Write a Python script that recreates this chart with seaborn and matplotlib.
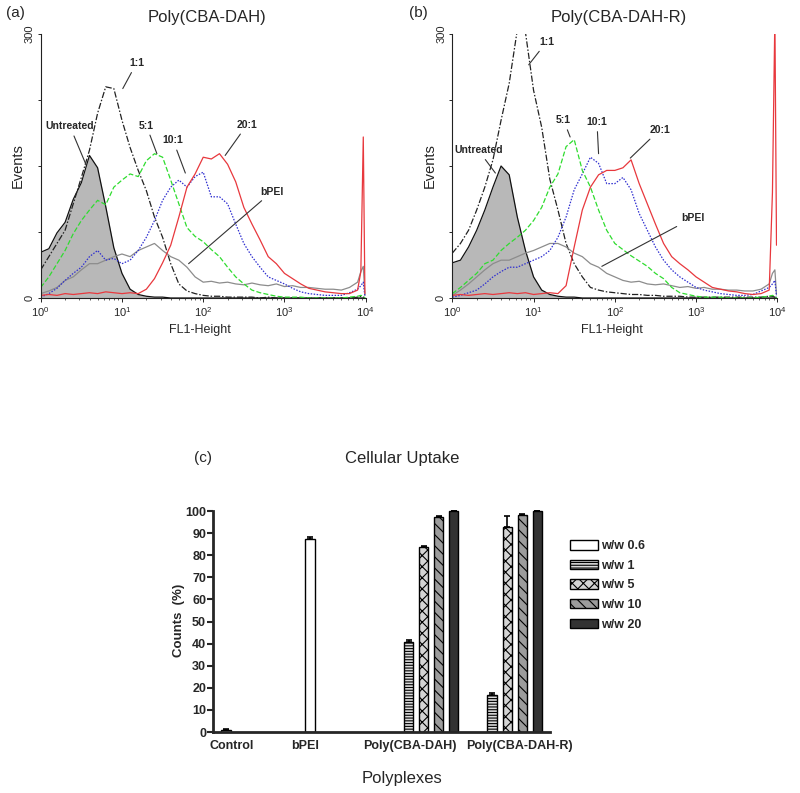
import numpy as np
import pandas as pd
import matplotlib.pyplot as plt
import seaborn as sns
from matplotlib.patches import Patch

sns.set_style('ticks')
plt.rcParams['font.family'] = ['Liberation Sans', 'DejaVu Sans']
plt.rcParams['mathtext.fontset'] = 'custom'
plt.rcParams['mathtext.rm'] = 'Liberation Sans'
plt.rcParams['mathtext.it'] = 'Liberation Sans:italic'
plt.rcParams['mathtext.bf'] = 'Liberation Sans:bold'
plt.rcParams['hatch.linewidth'] = 0.8

# ---- flow cytometry histograms (log10 of FL1-Height channel) ----
log_bins = [0.0, 0.1, 0.2, 0.3, 0.4, 0.5, 0.6, 0.7, 0.8, 0.9,
            1.0, 1.1, 1.2, 1.3, 1.4, 1.5, 1.6, 1.7, 1.8, 1.9,
            2.0, 2.1, 2.2, 2.3, 2.4, 2.5, 2.6, 2.7, 2.8, 2.9,
            3.0, 3.1, 3.2, 3.3, 3.4, 3.5, 3.6, 3.7, 3.8, 3.9,
            3.94, 3.97, 3.99]

samples = ['Untreated', '1:1', 'bPEI', '10:1', '5:1', '20:1']

# panel (a) Poly(CBA-DAH)
untreated_a = [52, 56, 74, 86, 112, 131, 162, 148, 104, 57,
               28, 10, 4, 2, 1, 1, 0, 0, 0, 0,
               0, 0, 0, 0, 0, 0, 0, 0, 0, 0,
               0, 0, 0, 0, 0, 0, 0, 0, 0, 0,
               0, 0, 0]
ratio1_a = [32, 47, 62, 77, 107, 137, 168, 210, 240, 238,
            202, 171, 145, 122, 92, 69, 39, 16, 8, 5,
            3, 2, 2, 1, 1, 1, 1, 0, 1, 0,
            0, 0, 0, 0, 0, 0, 0, 0, 0, 1,
            2, 1, 0]
ratio5_a = [12, 24, 39, 54, 73, 88, 100, 111, 106, 126,
            134, 141, 138, 156, 164, 160, 134, 107, 80, 70,
            64, 55, 47, 35, 24, 16, 9, 6, 4, 2,
            1, 1, 1, 0, 0, 0, 0, 0, 1, 2,
            3, 2, 0]
ratio10_a = [1, 5, 11, 20, 28, 35, 47, 54, 43, 45,
             39, 43, 54, 69, 88, 111, 126, 134, 126, 138,
             143, 115, 115, 107, 84, 62, 47, 35, 24, 20,
             16, 11, 7, 5, 4, 3, 3, 3, 6, 10,
             14, 18, 2]
ratio20_a = [3, 4, 3, 5, 4, 5, 6, 5, 7, 6,
             5, 6, 5, 10, 22, 40, 60, 92, 126, 141,
             160, 158, 164, 152, 132, 103, 84, 66, 47, 39,
             28, 22, 16, 11, 9, 7, 6, 5, 5, 9,
             30, 183, 5]
bpei_a = [5, 8, 12, 20, 24, 32, 39, 39, 43, 47,
          50, 47, 54, 58, 62, 54, 47, 43, 35, 24,
          18, 19, 17, 18, 16, 15, 17, 15, 14, 16,
          13, 14, 12, 12, 11, 10, 10, 9, 12, 18,
          30, 36, 3]

# panel (b) Poly(CBA-DAH-R)
untreated_b = [40, 43, 58, 77, 100, 126, 150, 140, 92, 54,
               24, 9, 4, 2, 1, 1, 0, 0, 0, 0,
               0, 0, 0, 0, 0, 0, 0, 0, 0, 0,
               0, 0, 0, 0, 0, 0, 0, 0, 0, 0,
               0, 0, 0]
ratio1_b = [51, 62, 77, 100, 126, 157, 202, 244, 305, 302,
            236, 194, 135, 100, 62, 39, 24, 12, 9, 7,
            6, 5, 4, 4, 3, 3, 2, 2, 2, 1,
            1, 1, 1, 1, 1, 1, 1, 1, 1, 2,
            2, 1, 0]
ratio5_b = [5, 12, 20, 28, 39, 43, 54, 62, 69, 77,
            88, 103, 126, 141, 172, 180, 145, 126, 100, 77,
            62, 55, 48, 42, 36, 28, 22, 12, 6, 4,
            2, 1, 1, 1, 0, 0, 0, 0, 1, 2,
            3, 2, 0]
ratio10_b = [1, 3, 6, 9, 16, 24, 30, 35, 35, 39,
             43, 47, 54, 69, 92, 123, 141, 160, 153, 130,
             130, 137, 123, 96, 77, 58, 43, 32, 24, 18,
             12, 9, 7, 5, 4, 3, 3, 4, 8, 12,
             16, 20, 2]
ratio20_b = [3, 4, 3, 4, 5, 4, 5, 6, 5, 6,
             4, 5, 6, 5, 14, 58, 100, 126, 140, 145,
             145, 148, 157, 130, 107, 84, 62, 47, 39, 32,
             24, 18, 12, 10, 8, 7, 5, 4, 5, 9,
             120, 320, 60]
bpei_b = [3, 9, 16, 24, 32, 39, 43, 43, 47, 51,
          54, 58, 62, 62, 58, 51, 47, 39, 35, 28,
          24, 20, 18, 19, 16, 15, 16, 14, 12, 13,
          11, 12, 10, 10, 9, 9, 8, 8, 10, 16,
          28, 32, 4]

# label text, label position (log10 x, events), pointed-at position
notes_a = [('Untreated', 0.36, 195, 0.56, 151), ('1:1', 1.18, 267, 1.01, 238),
           ('5:1', 1.30, 196, 1.43, 164), ('10:1', 1.63, 179, 1.78, 142),
           ('20:1', 2.54, 197, 2.27, 162), ('bPEI', 2.85, 121, 1.82, 39)]
notes_b = [('Untreated', 0.32, 168, 0.53, 142), ('1:1', 1.16, 291, 0.94, 265),
           ('5:1', 1.37, 202, 1.45, 183), ('10:1', 1.78, 200, 1.80, 164),
           ('20:1', 2.55, 191, 2.19, 159), ('bPEI', 2.96, 91, 1.84, 36)]

# ---- cellular uptake bar chart ----
groups = ['Control', 'bPEI', 'Poly(CBA-DAH)', 'Poly(CBA-DAH-R)']
ratios = ['w/w 0.6', 'w/w 1', 'w/w 5', 'w/w 10', 'w/w 20']
bar_group = ['Control', 'bPEI',
             'Poly(CBA-DAH)', 'Poly(CBA-DAH)', 'Poly(CBA-DAH)', 'Poly(CBA-DAH)',
             'Poly(CBA-DAH-R)', 'Poly(CBA-DAH-R)', 'Poly(CBA-DAH-R)', 'Poly(CBA-DAH-R)']
bar_ratio = ['w/w 0.6', 'w/w 0.6',
             'w/w 1', 'w/w 5', 'w/w 10', 'w/w 20',
             'w/w 1', 'w/w 5', 'w/w 10', 'w/w 20']
bar_mean = [1.0, 87.2, 40.9, 83.8, 97.4, 99.8, 16.7, 92.9, 98.2, 99.8]
bar_err = [0.3, 1.2, 0.7, 0.5, 0.3, 0.2, 1.0, 4.8, 0.3, 0.2]

line_colors = {'Untreated': '#111111', '1:1': '#222222', '5:1': '#2fdc2f',
               '10:1': '#2f2fd0', '20:1': '#e8383d', 'bPEI': '#8c8c8c'}
line_dashes = {'Untreated': '', '1:1': (5, 1.5, 1.2, 1.5), '5:1': (4, 1.8),
               '10:1': (1.2, 1.2), '20:1': '', 'bPEI': ''}

fig = plt.figure(figsize=(8, 7.93), dpi=100)
ax_a = fig.add_axes([0.0509, 0.6242, 0.40625, 0.3329])
ax_b = fig.add_axes([0.5654, 0.6242, 0.40625, 0.3329])
ax_c = fig.add_axes([0.26625, 0.07692, 0.42125, 0.28146])

fl1 = 10 ** np.array(log_bins)


def draw_hist(ax, curves, notes, title, tag, tag_x):
    df = pd.DataFrame({
        'FL1': np.tile(fl1, len(samples)),
        'Events': np.concatenate([curves[s] for s in samples]),
        'Sample': np.repeat(samples, len(fl1)),
    })
    ax.set_xscale('log')
    ax.fill_between(fl1, curves['Untreated'], color='#b8b8b8', lw=0, zorder=0)
    sns.lineplot(data=df, x='FL1', y='Events', hue='Sample', style='Sample',
                 hue_order=samples, style_order=samples,
                 palette=line_colors, dashes=line_dashes, linewidth=0.9,
                 estimator=None, legend=False, ax=ax)
    ax.set_xlim(1, 1e4)
    ax.set_ylim(0, 300)
    ax.set_yticks([0, 300])
    ax.set_yticklabels(['0', '300'], rotation=90, va='center', fontsize=8)
    ax.set_yticks([75, 150, 225], minor=True)
    ax.tick_params(axis='x', labelsize=8, length=3, width=0.7, pad=2)
    ax.tick_params(axis='x', which='minor', length=1.5, width=0.5)
    ax.tick_params(axis='y', which='both', length=2.5, width=0.7, pad=2)
    for side in ['top', 'right']:
        ax.spines[side].set_visible(False)
    for side in ['left', 'bottom']:
        ax.spines[side].set_linewidth(0.8)
        ax.spines[side].set_color('#222222')
    ax.set_xlabel('FL1-Height', fontsize=9, va='center')
    ax.xaxis.set_label_coords(0.49, -0.121)
    ax.set_ylabel('Events', fontsize=10.5, va='center')
    ax.yaxis.set_label_coords(-0.07, 0.5)
    ax.text(0.512, 1.064, title, transform=ax.transAxes, ha='center',
            va='center', fontsize=12)
    fig.text(tag_x, 1 - 13 / 793, tag, ha='center', va='center', fontsize=11)
    for label, tx, ty, px, py in notes:
        ax.annotate(label, xy=(10 ** px, py), xytext=(10 ** tx, ty),
                    ha='center', va='center', fontsize=7.5, fontweight='bold',
                    arrowprops=dict(arrowstyle='-', color='#333333', lw=0.8,
                                    shrinkA=1, shrinkB=0))


draw_hist(ax_a, {'Untreated': untreated_a, '1:1': ratio1_a, '5:1': ratio5_a,
                 '10:1': ratio10_a, '20:1': ratio20_a, 'bPEI': bpei_a},
          notes_a, 'Poly(CBA-DAH)', '(a)', 15 / 800)
draw_hist(ax_b, {'Untreated': untreated_b, '1:1': ratio1_b, '5:1': ratio5_b,
                 '10:1': ratio10_b, '20:1': ratio20_b, 'bPEI': bpei_b},
          notes_b, 'Poly(CBA-DAH-R)', '(b)', 418 / 800)

# ---- panel (c) ----
bars = pd.DataFrame({'Polyplex': bar_group, 'Ratio': bar_ratio, 'Counts': bar_mean})
sns.barplot(data=bars, x='Polyplex', y='Counts', hue='Ratio', order=groups,
            hue_order=ratios, width=0.9, gap=0.37, errorbar=None, legend=False,
            edgecolor='black', linewidth=1.0, ax=ax_c)

bar_styles = [('white', ''), ('#dadada', '------'), ('#d4d4d4', 'xxx'),
              ('#9c9c9c', '\\\\\\'), ('#333333', '')]
err_lookup = {(g, r): e for g, r, e in zip(bar_group, bar_ratio, bar_err)}
for ratio, cont, (fc, hatch) in zip(ratios, ax_c.containers, bar_styles):
    for p in cont:
        p.set_facecolor(fc)
        p.set_hatch(hatch)
        xc = p.get_x() + p.get_width() / 2
        g = groups[int(round(xc))]
        e = err_lookup.get((g, ratio))
        if e is not None:
            ax_c.errorbar(xc, p.get_height(), yerr=[[0], [e]], fmt='none',
                          ecolor='black', elinewidth=1.2, capsize=2.5,
                          capthick=1.2, zorder=3)

ax_c.set_xlim(-0.516, 3.51)
ax_c.set_ylim(0, 101)
ax_c.spines['left'].set_bounds(0, 100)
ax_c.set_yticks(range(0, 101, 10))
for side in ['top', 'right']:
    ax_c.spines[side].set_visible(False)
for side in ['left', 'bottom']:
    ax_c.spines[side].set_linewidth(2)
ax_c.tick_params(axis='y', length=4, width=1.5, labelsize=9, pad=1)
label_shift = [-0.29, -0.417, -0.163, 0.15]
ax_c.set_xticks(np.arange(len(groups)) + np.array(label_shift))
ax_c.set_xticklabels(groups)
ax_c.tick_params(axis='x', length=0, labelsize=9, pad=6)
for t in ax_c.get_xticklabels() + ax_c.get_yticklabels():
    t.set_fontweight('bold')
ax_c.set_xlabel('')
ax_c.set_ylabel('Counts  (%)', fontsize=9.5, fontweight='bold', va='center')
ax_c.yaxis.set_label_coords(-0.1, 0.5)

fig.text(402 / 800, 1 - 458 / 793, 'Cellular Uptake', ha='center', va='center', fontsize=12)
fig.text(203 / 800, 1 - 458 / 793, '(c)', ha='center', va='center', fontsize=11)
fig.text(402 / 800, 1 - 778 / 793, 'Polyplexes', ha='center', va='center', fontsize=12)

handles = [Patch(facecolor=fc, edgecolor='black', hatch=h, lw=1.0) for fc, h in bar_styles]
fig.legend(handles, ratios, loc='upper left', bbox_to_anchor=(0.7125, 0.319),
           frameon=False, handlelength=2.2, handleheight=0.8, labelspacing=0.6,
           handletextpad=0.3, borderpad=0, borderaxespad=0,
           prop={'weight': 'bold', 'size': 9})

fig.savefig('out.png', dpi=100)
